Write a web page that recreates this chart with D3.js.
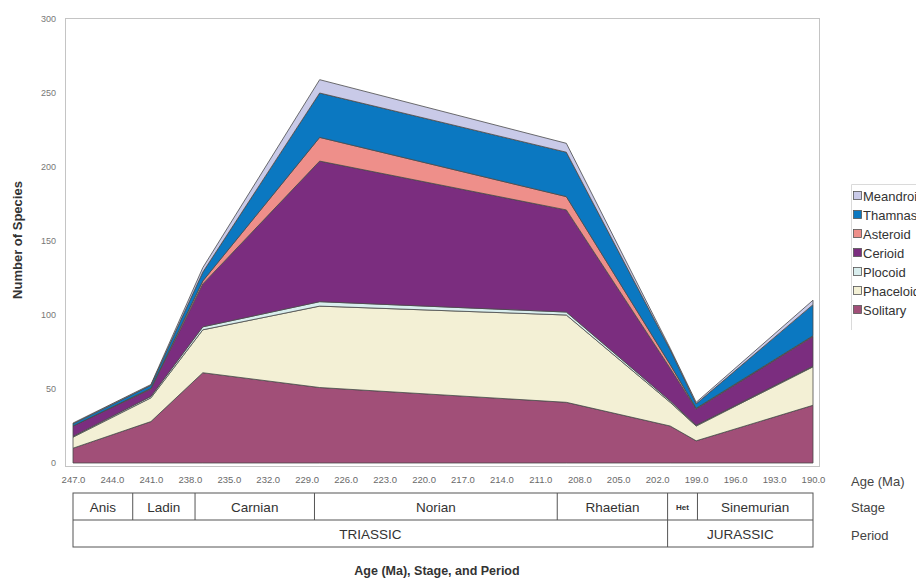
<!DOCTYPE html>
<html><head><meta charset="utf-8">
<script src="https://cdn.jsdelivr.net/npm/d3@7/dist/d3.min.js"></script>
<style>body{margin:0;background:#fff;} svg{display:block;font-family:"Liberation Sans",Arial,sans-serif;}</style>
</head><body>
<svg id="chart" width="920" height="580"></svg>
<script>
// ---- data ----
const ages = [247, 241, 237, 228, 209, 201, 199, 190];
const seriesNames = ["Solitary", "Phaceloid", "Plocoid", "Cerioid", "Asteroid", "Thamnasteroid", "Meandroid"];
const solitary   = [10, 28, 61, 51, 41, 25, 15, 39];
const phaceloid  = [7.5, 16, 29, 55, 59, 16, 10, 26];
const plocoid    = [0.5, 1, 2, 3, 2, 1, 0.5, 0.5];
const cerioid    = [7, 5, 29, 95, 69, 22, 11, 20];
const asteroid   = [0, 0.5, 2, 16, 9, 2.5, 0.5, 0.5];
const thamnas    = [1.5, 2, 6, 30, 30, 10, 3, 21];
const meandroid  = [0.5, 0.5, 3, 9, 6, 1, 1, 3];
const ageTicks = [247,244,241,238,235,232,229,226,223,220,217,214,211,208,205,202,199,196,193,190];
const yTicks = [0, 50, 100, 150, 200, 250, 300];
const stages = ["Anis", "Ladin", "Carnian", "Norian", "Rhaetian", "Het", "Sinemurian"];
const stageBounds = [247, 242.4, 237.6, 228.4, 209.7, 201.2, 198.9, 190];
const periods = ["TRIASSIC", "JURASSIC"];
const periodBounds = [247, 201.2, 190];

const colors = {
  "Solitary": "#a14f78", "Phaceloid": "#f3f0d5", "Plocoid": "#d9eeee",
  "Cerioid": "#7b2d7f", "Asteroid": "#ee8f8a", "Thamnasteroid": "#0b78c1", "Meandroid": "#c9cae8"
};
const seriesData = [solitary, phaceloid, plocoid, cerioid, asteroid, thamnas, meandroid];

const rows = ages.map((a, i) => {
  const r = {age: a};
  seriesNames.forEach((n, k) => r[n] = seriesData[k][i]);
  return r;
});

const svg = d3.select("#chart");
const x = d3.scaleLinear().domain([247, 190]).range([73, 813]);
const y = d3.scaleLinear().domain([0, 300]).range([463, 19]);

// frame
svg.append("rect").attr("x", 65.5).attr("y", 18.5).attr("width", 754).attr("height", 448)
  .attr("fill", "none").attr("stroke", "#c4c4c4").attr("stroke-width", 1);

const stack = d3.stack().keys(seriesNames)(rows);
const area = d3.area().x(d => x(d.data.age)).y0(d => y(d[0])).y1(d => y(d[1]));
svg.append("g").selectAll("path").data(stack).join("path")
  .attr("d", area)
  .attr("fill", d => colors[d.key])
  .attr("stroke", "#4a4a4a").attr("stroke-width", 0.8).attr("stroke-linejoin", "round");

// y axis
const yAxis = d3.axisLeft(y).tickValues(yTicks).tickSize(0).tickPadding(9).tickFormat(d3.format("d"));
const gy = svg.append("g").attr("transform", "translate(65,0)").call(yAxis);
gy.select(".domain").remove();
gy.selectAll("text").attr("font-size", 9).attr("fill", "#777").style("font-family", "Liberation Sans, Arial, sans-serif");

// x axis
const xAxis = d3.axisBottom(x).tickValues(ageTicks).tickSize(0).tickPadding(0).tickFormat(d3.format(".1f"));
const gx = svg.append("g").attr("transform", "translate(0,476)").call(xAxis);
gx.select(".domain").remove();
gx.selectAll("text").attr("font-size", 9.5).attr("fill", "#6a6a6a").style("font-family", "Liberation Sans, Arial, sans-serif");

// y title
svg.append("text").attr("transform", "translate(22,240) rotate(-90)")
  .attr("text-anchor", "middle").attr("font-size", 13).attr("font-weight", "bold").attr("fill", "#333")
  .text("Number of Species");

// stage / period table
const tTop = 493, tMid = 520, tBot = 547;
const tg = svg.append("g").attr("stroke", "#555").attr("stroke-width", 1).attr("fill", "none");
tg.append("rect").attr("x", x(247)).attr("y", tTop).attr("width", x(190) - x(247)).attr("height", tBot - tTop);
tg.append("line").attr("x1", x(247)).attr("x2", x(190)).attr("y1", tMid).attr("y2", tMid);
stageBounds.slice(1, -1).forEach(b => tg.append("line").attr("x1", x(b)).attr("x2", x(b)).attr("y1", tTop).attr("y2", tMid));
periodBounds.slice(1, -1).forEach(b => tg.append("line").attr("x1", x(b)).attr("x2", x(b)).attr("y1", tMid).attr("y2", tBot));

stages.forEach((s, i) => {
  const cx = (x(stageBounds[i]) + x(stageBounds[i + 1])) / 2;
  const isHet = s === "Het";
  svg.append("text").attr("x", cx).attr("y", isHet ? 510 : 512)
    .attr("text-anchor", "middle").attr("font-size", isHet ? 8 : 13.5)
    .attr("font-weight", isHet ? "bold" : "normal").attr("fill", "#333").text(s);
});
periods.forEach((p, i) => {
  const cx = (x(periodBounds[i]) + x(periodBounds[i + 1])) / 2;
  svg.append("text").attr("x", cx).attr("y", 539).attr("text-anchor", "middle")
    .attr("font-size", 13.5).attr("fill", "#333").text(p);
});

// right-side row labels
[["Age (Ma)", 486], ["Stage", 512], ["Period", 540]].forEach(([t, yy]) => {
  svg.append("text").attr("x", 851).attr("y", yy).attr("font-size", 13).attr("fill", "#444").text(t);
});

// bottom title
svg.append("text").attr("x", 437).attr("y", 575).attr("text-anchor", "middle")
  .attr("font-size", 12.5).attr("font-weight", "bold").attr("fill", "#333").text("Age (Ma), Stage, and Period");

// legend (top to bottom: reverse stacking order); its box is cut by the right edge as in the reference
svg.append("defs").append("clipPath").attr("id", "legclip")
  .append("rect").attr("x", 845).attr("y", 178).attr("width", 71).attr("height", 160);
const legendNames = seriesNames.slice().reverse();
const lg = svg.append("g").attr("clip-path", "url(#legclip)");
lg.append("path").attr("d", "M920,184.5 H851.5 V330").attr("fill", "none").attr("stroke", "#dadada");
legendNames.forEach((n, i) => {
  const cy = 196 + i * 19;
  lg.append("rect").attr("x", 853.5).attr("y", cy - 4.5).attr("width", 8).attr("height", 8)
    .attr("fill", colors[n]).attr("stroke", "#555").attr("stroke-width", 0.8);
  lg.append("text").attr("x", 863).attr("y", cy + 4.5).attr("font-size", 13).attr("fill", "#333").text(n);
});
</script>
</body></html>
